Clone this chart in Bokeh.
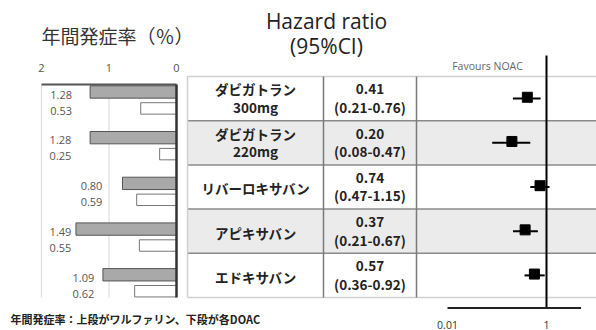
from bokeh.plotting import figure
from bokeh.models import Range1d, LogScale
from bokeh.core.properties import value
from bokeh.embed import file_html
from bokeh.resources import INLINE

# ---------------- data ----------------
drug_line1 = ["ダビガトラン", "ダビガトラン", "リバーロキサバン", "アピキサバン", "エドキサバン"]
drug_line2 = ["300mg", "220mg", "", "", ""]
warfarin_rate = [1.28, 1.28, 0.80, 1.49, 1.09]
noac_rate = [0.53, 0.25, 0.59, 0.55, 0.62]
hr = [0.41, 0.20, 0.74, 0.37, 0.57]
hr_lo = [0.21, 0.08, 0.47, 0.21, 0.36]
hr_hi = [0.76, 0.47, 1.15, 0.67, 0.92]
pct_ticks = [2, 1, 0]
hr_ticks = [0.01, 1]
hr_tick_labels = ["0.01", "1"]
title_left = "年間発症率（％）"
title_hr_1 = "Hazard ratio"
title_hr_2 = "(95%CI)"
favours = "Favours NOAC"
footnote = "年間発症率：上段がワルファリン、下段が各DOAC"

# ---------------- layout constants (screen px) ----------------
W, H = 596, 330
JP = value("Noto Sans CJK JP")
LAT = value("Open Sans")


def span_range(v0, p0, v1, p1, lo, hi):
    s = (v1 - v0) / (p1 - p0)
    return Range1d(start=v0 + (lo - p0) * s, end=v0 + (hi - p0) * s)


pct_range = span_range(2, 41, 0, 176, 0, W)
hr_lin = span_range(-2, 447, 0, 546, 0, W)
hr_range = Range1d(start=10 ** hr_lin.start, end=10 ** hr_lin.end)
row_range = span_range(0, 98.1, 1, 142.3, H, 0)
grp_range = span_range(0, 99.7, 1, 145.4, H, 0)

p = figure(frame_width=W, frame_height=H,
           x_range=Range1d(0, W), y_range=Range1d(H, 0),
           x_axis_type=None, y_axis_type=None,
           output_backend="svg", toolbar_location=None, min_border=0)
p.outline_line_color = None
p.background_fill_color = "white"
p.border_fill_color = "white"
p.extra_x_ranges = {"pct": pct_range, "hr": hr_range}
p.extra_x_scales = {"hr": LogScale()}
p.extra_y_ranges = {"row": row_range, "grp": grp_range}

n = len(drug_line1)
rows = list(range(n))

# ---------------- table ----------------
TL, C1, C2 = 187, 323, 416
p.quad(left=TL, right=W, top=[i - 0.5 for i in rows], bottom=[i + 0.5 for i in rows],
       fill_color=["white" if i % 2 == 0 else "#ebebeb" for i in rows],
       line_color=None, y_range_name="row")
p.segment(x0=TL, x1=W, y0=[i + 0.5 for i in rows[:-1]], y1=[i + 0.5 for i in rows[:-1]],
          line_color="#8a8a8a", line_width=1.5, y_range_name="row")
p.segment(x0=TL, x1=W, y0=[-0.5, n - 0.5], y1=[-0.5, n - 0.5],
          line_color="#d0d0d0", line_width=1.5, y_range_name="row")
p.segment(x0=[TL], x1=[TL], y0=-0.5, y1=n - 0.5,
          line_color="#d0d0d0", line_width=1.5, y_range_name="row")
p.segment(x0=[C1, C2], x1=[C1, C2], y0=-0.5, y1=n - 0.5,
          line_color="#7a7a7a", line_width=1.5, y_range_name="row")

two_line = [s != "" for s in drug_line2]
name_y1 = [i - 0.21 if t else i + 0.03 for i, t in zip(rows, two_line)]
name_y2 = [i + 0.19 for i in rows]
cell_style = dict(text_align="center", text_baseline="middle", text_font=JP,
                  text_font_style="bold", text_font_size="13.5px",
                  text_color="#222222", y_range_name="row")
p.text(x=(TL + C1) / 2, y=name_y1, text=drug_line1, **cell_style)
p.text(x=(TL + C1) / 2, y=name_y2, text=drug_line2, **cell_style)
p.text(x=(C1 + C2) / 2, y=[i - 0.21 for i in rows], text=[f"{h:.2f}" for h in hr],
       **cell_style)
p.text(x=(C1 + C2) / 2, y=[i + 0.19 for i in rows],
       text=[f"({lo:.2f}-{hi:.2f})" for lo, hi in zip(hr_lo, hr_hi)], **cell_style)

# ---------------- forest ----------------
AX_Y = 307.5
p.segment(x0=[1], x1=[1], y0=55, y1=AX_Y, line_color="black", line_width=2,
          x_range_name="hr")
p.segment(x0=hr_lo, x1=hr_hi, y0=rows, y1=rows, line_color="black", line_width=2,
          x_range_name="hr", y_range_name="row")
p.scatter(x=hr, y=[i - 0.03 for i in rows], marker="square", size=10, fill_color="black",
          line_color="black", x_range_name="hr", y_range_name="row")
p.text(x=[487], y=[65], text=[favours], text_align="center", text_baseline="middle",
       text_font=LAT, text_font_size="10.5px", text_color="#666666")
# log axis: line + tick labels through the log scale
p.segment(x0=[0.01], x1=[5], y0=AX_Y, y1=AX_Y, line_color="#222222", line_width=2,
          x_range_name="hr")
p.text(x=hr_ticks, y=324, text=hr_tick_labels, text_align="center",
       text_baseline="middle", text_font=LAT, text_font_size="10.5px",
       text_color="#333333", x_range_name="hr")

# ---------------- left bars ----------------
BT, BB = 84, 297
p.segment(x0=[2, 1], x1=[2, 1], y0=BT, y1=BB, line_color="#dedede", line_width=1.2,
          x_range_name="pct")
grp = list(range(n))
p.hbar(y=[g - 0.18 for g in grp], left=0, right=warfarin_rate, height=0.27,
       fill_color="#a9a9a9", line_color="#555555", line_width=1,
       x_range_name="pct", y_range_name="grp")
p.hbar(y=[g + 0.18 for g in grp], left=0, right=noac_rate, height=0.25,
       fill_color="white", line_color="#777777", line_width=1,
       x_range_name="pct", y_range_name="grp")
p.segment(x0=[2], x1=[0], y0=BT, y1=BT, line_color="#555555", line_width=2,
          x_range_name="pct")
p.segment(x0=[0], x1=[0], y0=BT, y1=BB, line_color="#333333", line_width=2.5,
          x_range_name="pct")
label_left = [1.87, 1.88, 1.42, 1.88, 1.54]
val_style = dict(text_align="left", text_baseline="middle", text_font=LAT,
                 text_font_size="11px", text_color="#555555",
                 x_range_name="pct", y_range_name="grp")
p.text(x=label_left, y=[g - 0.12 for g in grp],
       text=[f"{v:.2f}" for v in warfarin_rate], **val_style)
p.text(x=label_left, y=[g + 0.23 for g in grp],
       text=[f"{v:.2f}" for v in noac_rate], **val_style)
p.text(x=pct_ticks, y=67, text=[str(t) for t in pct_ticks], text_align="center",
       text_baseline="middle", text_font=LAT, text_font_size="11px", text_color="#555555",
       x_range_name="pct")

# ---------------- titles ----------------
p.text(x=[41], y=[35], text=[title_left], text_align="left", text_baseline="middle",
       text_font=JP, text_font_size="19px", text_color="#333333")
p.text(x=[326], y=[20], text=[title_hr_1], text_align="center", text_baseline="middle",
       text_font=LAT, text_font_size="21px", text_color="#222222")
p.text(x=[326], y=[45], text=[title_hr_2], text_align="center", text_baseline="middle",
       text_font=LAT, text_font_size="21px", text_color="#222222")

p.text(x=[10], y=[318], text=[footnote], text_align="left", text_baseline="middle",
       text_font=JP, text_font_style="bold", text_font_size="11px", text_color="#222222")

open("out.html", "w").write(file_html(p, INLINE))
